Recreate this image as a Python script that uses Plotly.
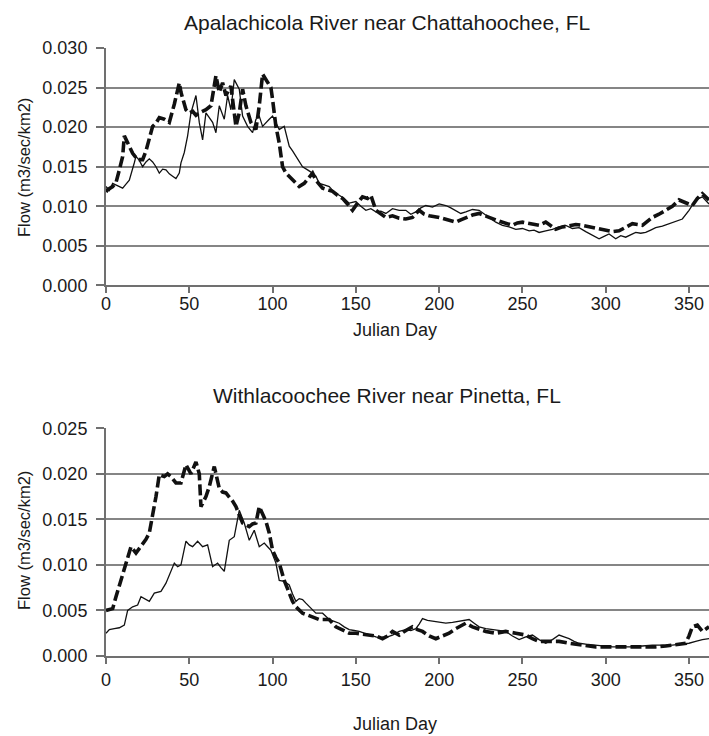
import plotly.graph_objects as go

# ---- Apalachicola River near Chattahoochee, FL ----
apa_solid_day = [0,2,4,7,10,12,14,17,18,20,22,24,26,28,30,32,34,36,38,40,42,44,45,47,49,51,54,56,58,60,62,64,66,68,71,73,75,77,80,82,85,88,90,92,94,96,98,100,102,104,107,110,112,114,116,118,121,124,126,128,131,134,137,140,143,146,150,153,156,159,162,165,168,172,176,180,183,186,189,192,196,200,204,207,210,213,216,220,224,227,230,234,238,242,246,250,254,257,260,264,268,272,276,280,284,288,292,296,299,302,306,309,312,315,318,321,324,327,330,334,338,342,346,350,354,358,362]
apa_solid_flow = [0.0125,0.0120,0.0129,0.0126,0.0123,0.0128,0.0133,0.0155,0.0163,0.0158,0.0150,0.0156,0.0160,0.0156,0.0150,0.0142,0.0147,0.0146,0.0141,0.0138,0.0135,0.0142,0.0155,0.0168,0.0189,0.0218,0.0240,0.0206,0.0184,0.0218,0.0212,0.0206,0.0193,0.0227,0.0210,0.0240,0.0222,0.0260,0.0248,0.0214,0.0201,0.0193,0.0210,0.0214,0.0201,0.0206,0.0210,0.0214,0.0205,0.0197,0.0201,0.0176,0.0170,0.0163,0.0157,0.0150,0.0146,0.0142,0.0138,0.0129,0.0127,0.0125,0.0118,0.0114,0.0110,0.0104,0.0106,0.0100,0.0095,0.0097,0.0093,0.0094,0.0091,0.0097,0.0095,0.0095,0.0090,0.0093,0.0098,0.0101,0.0099,0.0103,0.0101,0.0098,0.0095,0.0091,0.0093,0.0096,0.0095,0.0090,0.0086,0.0080,0.0076,0.0074,0.0071,0.0072,0.0069,0.0070,0.0067,0.0069,0.0071,0.0074,0.0076,0.0072,0.0073,0.0068,0.0063,0.0059,0.0062,0.0065,0.0059,0.0063,0.0061,0.0064,0.0067,0.0066,0.0067,0.0070,0.0073,0.0075,0.0078,0.0080,0.0084,0.0095,0.0108,0.0112,0.0103]

apa_dash_day = [0,1,4,6,8,10,11,12,14,16,19,22,24,26,28,30,32,35,38,41,43,44,45,48,50,52,54,56,60,63,66,68,70,72,75,78,80,82,84,87,90,92,94,97,99,100,102,104,106,108,110,112,114,116,119,122,124,126,128,130,133,136,139,142,145,148,151,154,157,159,162,165,168,172,176,180,184,188,191,194,197,200,205,210,213,216,220,224,227,230,235,240,244,247,250,255,260,264,267,270,274,278,282,286,290,292,296,300,304,308,312,316,319,322,325,328,332,336,340,344,348,352,355,358,362]
apa_dash_flow = [0.0118,0.0121,0.0125,0.0130,0.0146,0.0163,0.0189,0.0185,0.0176,0.0167,0.0159,0.0159,0.0170,0.0184,0.0201,0.0205,0.0212,0.0210,0.0206,0.0229,0.0245,0.0256,0.0244,0.0222,0.0218,0.0220,0.0215,0.0218,0.0222,0.0227,0.0265,0.0244,0.0256,0.0240,0.0252,0.0201,0.0218,0.0248,0.0227,0.0206,0.0197,0.0227,0.0267,0.0256,0.0250,0.0235,0.0201,0.0180,0.0150,0.0142,0.0138,0.0134,0.0129,0.0125,0.0129,0.0136,0.0142,0.0133,0.0128,0.0123,0.0121,0.0119,0.0114,0.0110,0.0103,0.0095,0.0104,0.0112,0.0110,0.0114,0.0095,0.0090,0.0086,0.0088,0.0085,0.0084,0.0086,0.0095,0.0090,0.0088,0.0087,0.0086,0.0083,0.0080,0.0083,0.0086,0.0089,0.0091,0.0088,0.0086,0.0082,0.0078,0.0076,0.0079,0.0080,0.0078,0.0076,0.0080,0.0075,0.0071,0.0074,0.0076,0.0077,0.0076,0.0074,0.0073,0.0071,0.0069,0.0068,0.0069,0.0073,0.0078,0.0077,0.0076,0.0081,0.0086,0.0090,0.0095,0.0100,0.0108,0.0105,0.0101,0.0110,0.0116,0.0108]

# ---- Withlacoochee River near Pinetta, FL ----
wit_solid_day = [0,2,5,8,11,13,16,19,21,24,26,29,31,33,36,39,41,43,45,48,50,52,55,58,61,64,67,69,71,74,77,80,83,86,89,92,95,97,99,102,104,107,110,112,114,116,118,120,122,124,126,130,132,134,137,140,143,146,149,152,155,158,162,166,169,172,176,180,183,186,188,190,193,196,200,204,208,212,215,218,221,224,228,232,236,240,244,248,252,256,260,264,268,272,275,278,281,284,288,292,298,304,310,316,322,328,334,340,345,350,354,358,362]
wit_solid_flow = [0.0025,0.0029,0.0030,0.0031,0.0034,0.0050,0.0054,0.0056,0.0065,0.0062,0.0060,0.0069,0.0070,0.0071,0.0080,0.0094,0.0102,0.0098,0.0100,0.0126,0.0122,0.0120,0.0126,0.0120,0.0122,0.0098,0.0102,0.0097,0.0093,0.0127,0.0131,0.0160,0.0146,0.0127,0.0138,0.0120,0.0124,0.0120,0.0116,0.0102,0.0083,0.0082,0.0078,0.0068,0.0060,0.0063,0.0062,0.0058,0.0054,0.0050,0.0047,0.0047,0.0043,0.0040,0.0038,0.0036,0.0032,0.0029,0.0028,0.0027,0.0025,0.0023,0.0021,0.0019,0.0021,0.0023,0.0027,0.0029,0.0028,0.0030,0.0035,0.0041,0.0039,0.0038,0.0037,0.0036,0.0037,0.0038,0.0039,0.0040,0.0036,0.0032,0.0030,0.0029,0.0028,0.0027,0.0022,0.0018,0.0021,0.0023,0.0018,0.0014,0.0018,0.0023,0.0021,0.0019,0.0016,0.0014,0.0013,0.0012,0.0011,0.0010,0.0010,0.0010,0.0011,0.0012,0.0012,0.0012,0.0013,0.0014,0.0016,0.0018,0.0019]

wit_dash_day = [0,2,4,6,9,12,15,18,20,22,24,26,28,30,32,35,37,39,42,45,48,51,54,56,57,60,62,65,68,70,72,74,76,78,80,82,84,86,88,90,92,94,96,98,100,102,104,107,110,112,114,118,121,124,128,131,134,138,142,146,150,154,158,162,166,169,172,176,180,184,187,190,194,198,202,206,210,214,216,220,224,228,234,240,246,252,256,260,266,272,278,284,290,294,300,306,312,318,324,330,336,340,344,348,350,352,355,358,362]
wit_dash_flow = [0.0050,0.0051,0.0052,0.0065,0.0083,0.0102,0.0120,0.0113,0.0118,0.0124,0.0128,0.0135,0.0153,0.0175,0.0199,0.0197,0.0200,0.0197,0.0190,0.0190,0.0210,0.0200,0.0213,0.0200,0.0164,0.0175,0.0186,0.0208,0.0184,0.0180,0.0179,0.0175,0.0170,0.0164,0.0155,0.0146,0.0144,0.0142,0.0145,0.0146,0.0164,0.0157,0.0148,0.0135,0.0116,0.0108,0.0102,0.0083,0.0069,0.0060,0.0054,0.0047,0.0045,0.0043,0.0040,0.0040,0.0040,0.0032,0.0028,0.0025,0.0025,0.0024,0.0023,0.0022,0.0019,0.0022,0.0027,0.0023,0.0028,0.0032,0.0029,0.0027,0.0022,0.0019,0.0022,0.0025,0.0030,0.0034,0.0036,0.0032,0.0029,0.0027,0.0025,0.0027,0.0025,0.0023,0.0019,0.0016,0.0016,0.0016,0.0014,0.0012,0.0011,0.0010,0.0010,0.0010,0.0010,0.0010,0.0010,0.0010,0.0011,0.0012,0.0013,0.0014,0.0022,0.0032,0.0034,0.0027,0.0032]

titles = ["Apalachicola River near Chattahoochee, FL", "Withlacoochee River near Pinetta, FL"]
x_title = "Julian Day"
y_title = "Flow (m3/sec/km2)"
x_ticks = [0, 50, 100, 150, 200, 250, 300, 350]
top_y_ticks = [0.000, 0.005, 0.010, 0.015, 0.020, 0.025, 0.030]
bot_y_ticks = [0.000, 0.005, 0.010, 0.015, 0.020, 0.025]

FONT = "Liberation Sans, Arial, sans-serif"
solid = dict(color="#111111", width=1.3)
dashed = dict(color="#111111", width=3.6, dash="11px,4px")

fig = go.Figure()
fig.add_trace(go.Scatter(x=apa_dash_day, y=apa_dash_flow, mode="lines", line=dashed, xaxis="x", yaxis="y"))
fig.add_trace(go.Scatter(x=apa_solid_day, y=apa_solid_flow, mode="lines", line=solid, xaxis="x", yaxis="y"))
fig.add_trace(go.Scatter(x=wit_dash_day, y=wit_dash_flow, mode="lines", line=dashed, xaxis="x2", yaxis="y2"))
fig.add_trace(go.Scatter(x=wit_solid_day, y=wit_solid_flow, mode="lines", line=solid, xaxis="x2", yaxis="y2"))

xcommon = dict(range=[0, 362], tickvals=x_ticks, showgrid=False, zeroline=False, automargin=False,
               showline=True, linecolor="#707070", linewidth=2,
               ticks="outside", ticklen=6, tickwidth=1.5, tickcolor="#707070",
               tickfont=dict(family=FONT, size=18, color="#1a1a1a"))
ycommon = dict(showgrid=True, gridcolor="#858585", gridwidth=1.9, zeroline=False, automargin=False,
               showline=True, linecolor="#707070", linewidth=2,
               ticks="outside", ticklen=8, tickwidth=1.5, tickcolor="#707070",
               tickformat=".3f", tickfont=dict(family=FONT, size=18, color="#1a1a1a"),
               ticklabelstandoff=5)

fig.update_layout(
    width=709, height=736,
    margin=dict(l=106, r=0, t=0, b=0, autoexpand=False),
    paper_bgcolor="white", plot_bgcolor="white",
    showlegend=False,
    xaxis=dict(domain=[0, 1], anchor="y", ticklabelstandoff=-5, **xcommon),
    yaxis=dict(domain=[0.6121, 0.9348], anchor="x", range=[0, 0.030], tickvals=top_y_ticks, **ycommon),
    xaxis2=dict(domain=[0, 1], anchor="y2", ticklabelstandoff=0, **xcommon),
    yaxis2=dict(domain=[0.1087, 0.4181], anchor="x2", range=[0, 0.025], tickvals=bot_y_ticks, **ycommon),
)

ann = []
for t, yy in [(titles[0], 0.970), (titles[1], 0.4633)]:
    ann.append(dict(text=t, x=0.466, y=yy, xref="paper", yref="paper", showarrow=False,
                    xanchor="center", yanchor="middle", font=dict(family=FONT, size=21, color="#1a1a1a")))
for yy in [0.5516, 0.0163]:
    ann.append(dict(text=x_title, x=0.479, y=yy, xref="paper", yref="paper", showarrow=False,
                    xanchor="center", yanchor="middle", font=dict(family=FONT, size=18, color="#1a1a1a")))
for yy in [0.7731, 0.2663]:
    ann.append(dict(text=y_title, x=-0.136, y=yy, xref="paper", yref="paper", showarrow=False,
                    textangle=-90, xanchor="center", yanchor="middle", font=dict(family=FONT, size=16.5, color="#1a1a1a")))
fig.update_layout(annotations=ann)

fig.write_html("out.html", config={"displayModeBar": False},
               post_script="document.body.style.margin='0';document.body.style.overflow='hidden';")
